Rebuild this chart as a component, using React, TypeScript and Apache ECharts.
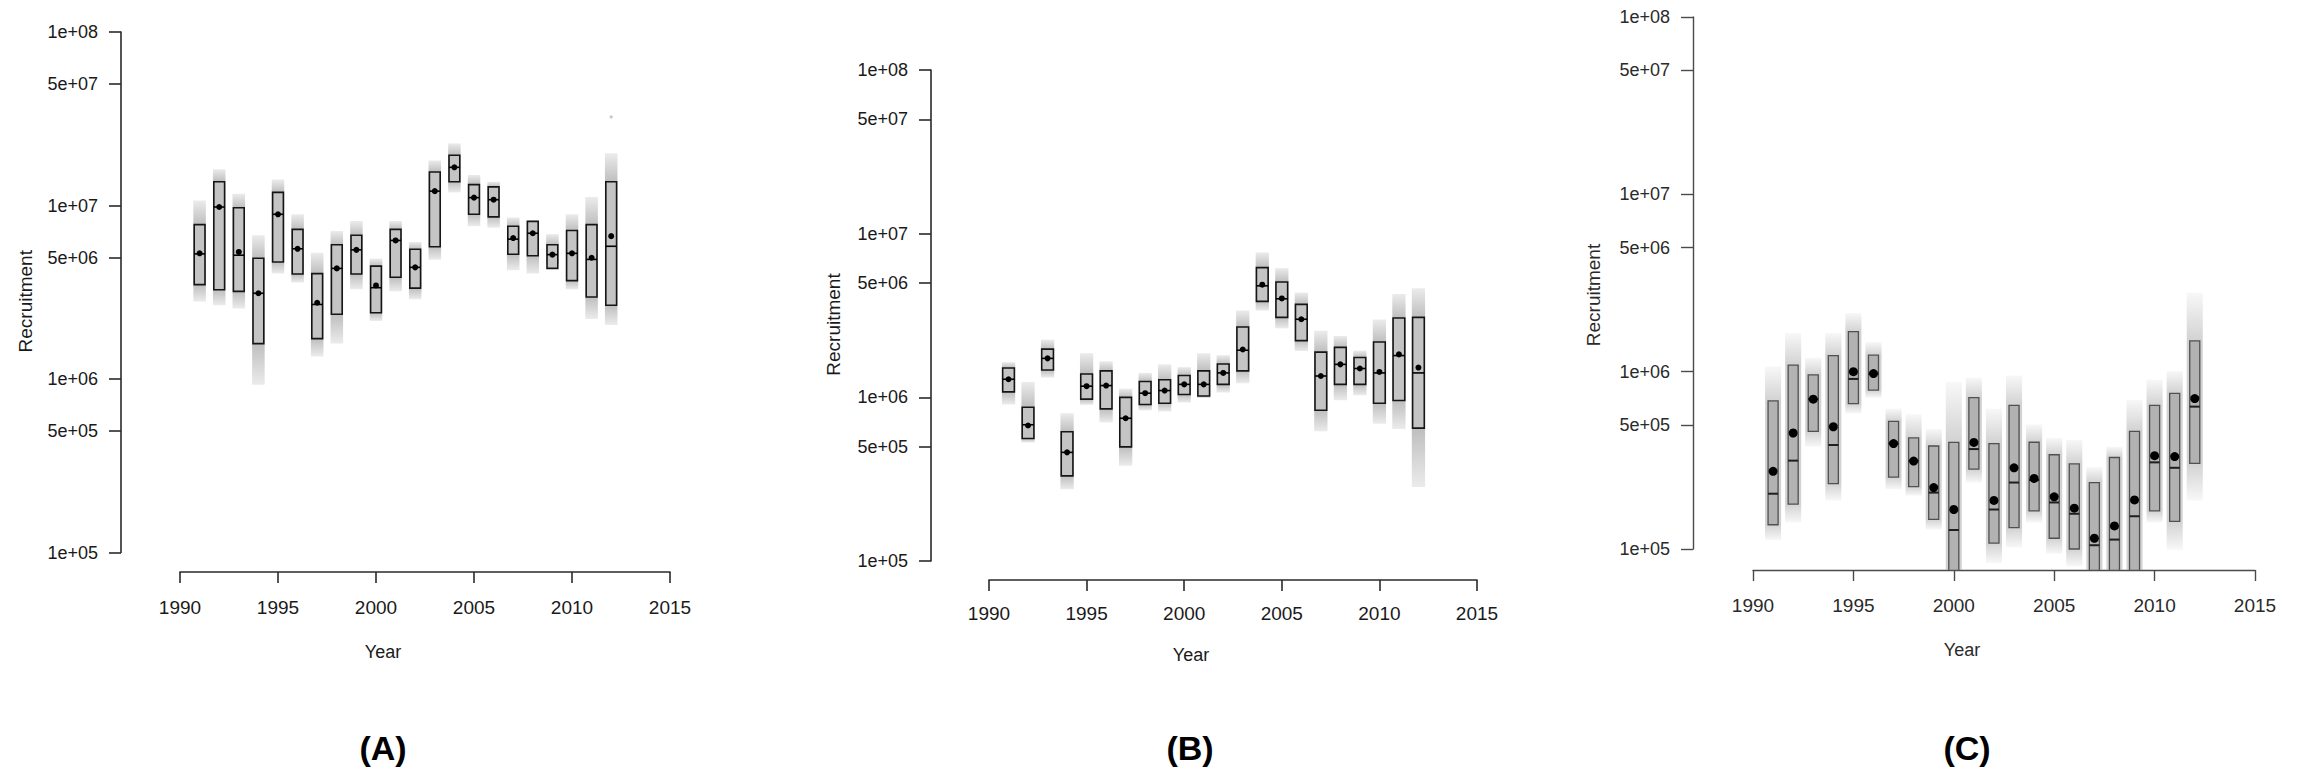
import { useEffect, useRef } from 'react';
import * as echarts from 'echarts';

// Recruitment estimates per year: interval box (low/high), median line, mean dot,
// and the spread of the posterior draws (cloud) drawn behind each box.
const years = [1991, 1992, 1993, 1994, 1995, 1996, 1997, 1998, 1999, 2000, 2001, 2002, 2003, 2004, 2005, 2006, 2007, 2008, 2009, 2010, 2011, 2012];

const yTickValues = [1e5, 5e5, 1e6, 5e6, 1e7, 5e7, 1e8];
const yTickLabels = ['1e+05', '5e+05', '1e+06', '5e+06', '1e+07', '5e+07', '1e+08'];
const panelLabels = ['(A)', '(B)', '(C)'];

// Panel A
const aLow = [3.5e6, 3.27e6, 3.2e6, 1.6e6, 4.72e6, 4.03e6, 1.71e6, 2.36e6, 4.03e6, 2.41e6, 3.86e6, 3.34e6, 5.78e6, 1.37e7, 8.9e6, 8.6e6, 5.24e6, 5.13e6, 4.34e6, 3.69e6, 2.97e6, 2.66e6];
const aHigh = [7.76e6, 1.37e7, 9.7e6, 4.97e6, 1.19e7, 7.28e6, 4.05e6, 5.94e6, 6.74e6, 4.47e6, 7.28e6, 5.6e6, 1.56e7, 1.95e7, 1.32e7, 1.28e7, 7.6e6, 8.1e6, 5.94e6, 7.17e6, 7.76e6, 1.37e7];
const aMedian = [5.26e6, 9.8e6, 5.17e6, 3.12e6, 8.9e6, 5.63e6, 2.69e6, 4.34e6, 5.55e6, 3.36e6, 6.29e6, 4.4e6, 1.21e7, 1.66e7, 1.11e7, 1.08e7, 6.4e6, 6.92e6, 5.21e6, 5.3e6, 4.89e6, 5.82e6];
const aMean = [5.3e6, 9.8e6, 5.4e6, 3.12e6, 8.9e6, 5.63e6, 2.75e6, 4.34e6, 5.55e6, 3.46e6, 6.29e6, 4.4e6, 1.21e7, 1.66e7, 1.11e7, 1.08e7, 6.49e6, 6.92e6, 5.21e6, 5.3e6, 5.0e6, 6.66e6];
const aCloudLo = [2.8e6, 2.66e6, 2.55e6, 9.25e5, 4.05e6, 3.6e6, 1.35e6, 1.6e6, 3.29e6, 2.16e6, 3.2e6, 2.88e6, 4.86e6, 1.19e7, 7.6e6, 7.45e6, 4.23e6, 4.05e6, 4.62e6, 3.29e6, 2.22e6, 2.05e6];
const aCloudHi = [1.07e7, 1.62e7, 1.17e7, 6.73e6, 1.41e7, 8.9e6, 5.35e6, 7.13e6, 8.13e6, 4.94e6, 8.13e6, 6.16e6, 1.82e7, 2.28e7, 1.5e7, 1.37e7, 8.53e6, 8.2e6, 6.84e6, 8.9e6, 1.12e7, 2.0e7];
const aOutliers = [[2012, 3.24e7]];

// Panel B
const bLow = [1.08e6, 5.6e5, 1.47e6, 3.31e5, 9.75e5, 8.5e5, 4.98e5, 9.04e5, 9.2e5, 1.04e6, 1.02e6, 1.2e6, 1.45e6, 3.86e6, 3.08e6, 2.22e6, 8.33e5, 1.2e6, 1.2e6, 9.2e5, 9.57e5, 6.48e5];
const bHigh = [1.51e6, 8.7e5, 1.97e6, 6.16e5, 1.39e6, 1.45e6, 1.0e6, 1.25e6, 1.28e6, 1.36e6, 1.45e6, 1.6e6, 2.69e6, 6.2e6, 5.07e6, 3.7e6, 1.89e6, 2.02e6, 1.75e6, 2.18e6, 3.05e6, 3.08e6];
const bMedian = [1.29e6, 6.8e5, 1.73e6, 4.61e5, 1.17e6, 1.18e6, 7.45e5, 1.06e6, 1.1e6, 1.2e6, 1.2e6, 1.41e6, 1.94e6, 4.8e6, 4.0e6, 3.0e6, 1.35e6, 1.59e6, 1.5e6, 1.41e6, 1.8e6, 1.41e6];
const bMean = [1.29e6, 6.73e5, 1.73e6, 4.61e5, 1.17e6, 1.18e6, 7.45e5, 1.06e6, 1.1e6, 1.2e6, 1.2e6, 1.41e6, 1.96e6, 4.88e6, 4.02e6, 3.0e6, 1.35e6, 1.59e6, 1.5e6, 1.43e6, 1.83e6, 1.52e6];
const bCloudLo = [9.04e5, 5.3e5, 1.32e6, 2.74e5, 9.0e5, 7.03e5, 3.82e5, 8.33e5, 8.2e5, 9.3e5, 9.9e5, 1.07e6, 1.22e6, 3.39e6, 2.64e6, 1.92e6, 6.2e5, 9.6e5, 1.03e6, 6.9e5, 6.4e5, 2.83e5];
const bCloudHi = [1.64e6, 1.24e6, 2.25e6, 7.98e5, 1.86e6, 1.66e6, 1.13e6, 1.41e6, 1.59e6, 1.53e6, 1.86e6, 1.81e6, 3.39e6, 7.68e6, 6.16e6, 4.37e6, 2.55e6, 2.37e6, 1.93e6, 2.99e6, 4.28e6, 4.64e6];
const bOutliers: number[][] = [];

// Panel C
const cLow = [1.37e5, 1.79e5, 4.61e5, 2.34e5, 6.61e5, 7.87e5, 2.54e5, 2.25e5, 1.47e5, 6.0e4, 2.82e5, 1.08e5, 1.32e5, 1.64e5, 1.15e5, 1.0e5, 6.0e4, 6.0e4, 6.0e4, 1.64e5, 1.43e5, 3.04e5];
const cHigh = [6.84e5, 1.09e6, 9.58e5, 1.23e6, 1.68e6, 1.24e6, 5.24e5, 4.23e5, 3.81e5, 3.99e5, 7.13e5, 3.93e5, 6.46e5, 4.0e5, 3.4e5, 3.02e5, 2.37e5, 3.28e5, 4.61e5, 6.46e5, 7.55e5, 1.49e6];
const cMedian = [2.05e5, 3.15e5, 7.0e5, 3.86e5, 9.1e5, 9.75e5, 3.93e5, 3.13e5, 2.08e5, 1.28e5, 3.66e5, 1.67e5, 2.37e5, 2.45e5, 1.83e5, 1.58e5, 1.05e5, 1.13e5, 1.53e5, 3.08e5, 2.87e5, 6.35e5];
const cMean = [2.74e5, 4.51e5, 7.0e5, 4.89e5, 1.0e6, 9.75e5, 3.93e5, 3.13e5, 2.22e5, 1.67e5, 3.99e5, 1.88e5, 2.87e5, 2.5e5, 1.97e5, 1.7e5, 1.15e5, 1.35e5, 1.89e5, 3.36e5, 3.32e5, 7.05e5];
const cCloudLo = [1.12e5, 1.41e5, 3.77e5, 1.88e5, 5.82e5, 7.13e5, 2.17e5, 2.0e5, 1.29e5, 5.0e4, 2.37e5, 8.35e4, 1.02e5, 1.41e5, 9.4e4, 8.0e4, 5.0e4, 5.0e4, 5.0e4, 1.41e5, 9.9e4, 1.88e5];
const cCloudHi = [1.07e6, 1.65e6, 1.2e6, 1.65e6, 2.14e6, 1.47e6, 6.17e5, 5.75e5, 4.75e5, 8.74e5, 9.25e5, 6.17e5, 9.5e5, 5.04e5, 4.23e5, 4.12e5, 2.9e5, 3.77e5, 6.92e5, 9.0e5, 1.01e6, 2.79e6];
const cOutliers: number[][] = [];

const panels = [
  { low: aLow, high: aHigh, median: aMedian, mean: aMean, cloudLo: aCloudLo, cloudHi: aCloudHi, outliers: aOutliers },
  { low: bLow, high: bHigh, median: bMedian, mean: bMean, cloudLo: bCloudLo, cloudHi: bCloudHi, outliers: bOutliers },
  { low: cLow, high: cHigh, median: cMedian, mean: cMean, cloudLo: cCloudLo, cloudHi: cCloudHi, outliers: cOutliers },
];

const FONT = '"Liberation Sans", Arial, Helvetica, sans-serif';

// Plot frames (pixels) and mark styling for each panel.
const frames = [
  {
    left: 180, top: 32, width: 490, height: 520.5, yOffset: 59, xOffset: 19.5,
    xLabelMargin: 26, xNameGap: 71, yNameGap: 86, yNameShift: 18, labelX: 383,
    axisColor: '#2a2a2a', axisWidth: 1.6, textColor: '#1a1a1a',
    boxW: 0.55, cloudW: 0.64, boxFill: '#c4c4c4', boxStroke: '#151515', boxLine: 1.6,
    cloudDense: 'rgba(190,190,190,1)', cloudFade: 'rgba(190,190,190,0.3)',
    dotR: 3, medianColor: '#000', medianW: 1.6,
  },
  {
    left: 989, top: 70, width: 488, height: 491, yOffset: 58, xOffset: 19,
    xLabelMargin: 23.5, xNameGap: 66, yNameGap: 88, yNameShift: 18, labelX: 1190,
    axisColor: '#2a2a2a', axisWidth: 1.6, textColor: '#1a1a1a',
    boxW: 0.6, cloudW: 0.68, boxFill: '#c4c4c4', boxStroke: '#151515', boxLine: 1.6,
    cloudDense: 'rgba(190,190,190,1)', cloudFade: 'rgba(190,190,190,0.3)',
    dotR: 3, medianColor: '#000', medianW: 1.6,
  },
  {
    left: 1753, top: 17, width: 502, height: 532, yOffset: 60, xOffset: 21,
    xLabelMargin: 25.5, xNameGap: 71, yNameGap: 90, yNameShift: 24, labelX: 1967,
    axisColor: '#4a4a4a', axisWidth: 1.4, textColor: '#2a2a2a',
    boxW: 0.5, cloudW: 0.8, boxFill: '#b2b2b2', boxStroke: '#505050', boxLine: 1.3,
    cloudDense: 'rgba(165,165,165,0.5)', cloudFade: 'rgba(165,165,165,0.08)',
    dotR: 4.5, medianColor: '#1e1e1e', medianW: 2,
  },
];

// Plot region floor: 4% below 1e+05 on the 3-decade log range.
const LOG_FLOOR = 5 - 0.12;
const L = (v: number) => Math.log10(v);
const yTickPos = yTickValues.map(L);

function renderFor(f: any) {
  return (params: any, api: any) => {
    const x = api.value(0);
    const clamp = (v: number) => Math.max(v, LOG_FLOOR);
    const lo = clamp(api.value(1));
    const hi = clamp(api.value(2));
    const med = api.value(3);
    const mean = api.value(4);
    const cLo = clamp(api.value(5));
    const cHi = clamp(api.value(6));

    const bw = api.size([f.boxW, 0])[0];
    const cw = api.size([f.cloudW, 0])[0];
    const pTop = api.coord([x, hi]);
    const pBot = api.coord([x, lo]);
    const cTop = api.coord([x, cHi]);
    const cBot = api.coord([x, cLo]);
    const pMed = api.coord([x, med]);
    const pMean = api.coord([x, mean]);

    const span = Math.max(1, cBot[1] - cTop[1]);
    const t1 = Math.min(1, Math.max(0, (pTop[1] - cTop[1]) / span));
    const t2 = Math.min(1, Math.max(t1, (pBot[1] - cTop[1]) / span));

    const children: any[] = [
      {
        type: 'rect',
        shape: { x: cTop[0] - cw / 2, y: cTop[1], width: cw, height: span },
        style: {
          fill: new echarts.graphic.LinearGradient(0, 0, 0, 1, [
            { offset: 0, color: f.cloudFade },
            { offset: t1, color: f.cloudDense },
            { offset: t2, color: f.cloudDense },
            { offset: 1, color: f.cloudFade },
          ]),
        },
      },
      {
        type: 'rect',
        shape: { x: pTop[0] - bw / 2, y: pTop[1], width: bw, height: pBot[1] - pTop[1] },
        style: { fill: f.boxFill, stroke: f.boxStroke, lineWidth: f.boxLine },
      },
    ];
    if (med >= LOG_FLOOR) {
      children.push({
        type: 'line',
        shape: { x1: pMed[0] - bw / 2, y1: pMed[1], x2: pMed[0] + bw / 2, y2: pMed[1] },
        style: { stroke: f.medianColor, lineWidth: f.medianW },
      });
    }
    children.push({
      type: 'circle',
      shape: { cx: pMean[0], cy: pMean[1], r: f.dotR },
      style: { fill: '#000' },
    });
    return { type: 'group', children };
  };
}

export default function App() {
  const ref = useRef<HTMLDivElement>(null);

  useEffect(() => {
    if (!ref.current) return;
    const chart = echarts.init(ref.current, null, { renderer: 'svg' });

    const labelFor = (v: number) => {
      const i = yTickPos.findIndex((p) => Math.abs(p - v) < 1e-6);
      return i >= 0 ? yTickLabels[i] : '';
    };

    const series: any[] = [];
    panels.forEach((p, i) => {
      const f = frames[i];
      series.push({
        type: 'custom',
        xAxisIndex: i,
        yAxisIndex: i,
        clip: false,
        renderItem: renderFor(f),
        encode: { x: 0, y: [1, 2, 3, 4, 5, 6] },
        data: years.map((yr, k) => [
          yr,
          L(p.low[k]),
          L(p.high[k]),
          L(p.median[k]),
          L(p.mean[k]),
          L(p.cloudLo[k]),
          L(p.cloudHi[k]),
        ]),
      });
      if (p.outliers.length) {
        series.push({
          type: 'scatter',
          xAxisIndex: i,
          yAxisIndex: i,
          symbol: 'circle',
          symbolSize: 3,
          itemStyle: { color: '#b5b5b5' },
          data: p.outliers.map((o) => [o[0], L(o[1])]),
        });
      }
    });

    const option: any = {
      animation: false,
      backgroundColor: '#ffffff',
      grid: frames.map((f) => ({
        left: f.left,
        top: f.top,
        width: f.width,
        height: f.height,
        containLabel: false,
        outerBoundsMode: 'none',
      })),
      xAxis: frames.map((f, i) => ({
        type: 'value',
        gridIndex: i,
        min: 1990,
        max: 2015,
        interval: 5,
        offset: f.xOffset,
        axisLine: { show: true, onZero: false, lineStyle: { color: f.axisColor, width: f.axisWidth } },
        axisTick: { show: true, length: 11, lineStyle: { color: f.axisColor, width: f.axisWidth } },
        axisLabel: {
          margin: f.xLabelMargin,
          fontSize: 19,
          fontFamily: FONT,
          color: f.textColor,
          formatter: (v: number) => String(v),
        },
        splitLine: { show: false },
        name: 'Year',
        nameLocation: 'middle',
        nameGap: f.xNameGap,
        nameTextStyle: { fontSize: 18, fontFamily: FONT, color: f.textColor, padding: [0, 84, 0, 0] },
      })),
      yAxis: frames.map((f, i) => ({
        type: 'value',
        gridIndex: i,
        min: 5,
        max: 8,
        offset: f.yOffset,
        axisLine: { show: true, onZero: false, lineStyle: { color: f.axisColor, width: f.axisWidth } },
        axisTick: { show: true, length: 12, customValues: yTickPos, lineStyle: { color: f.axisColor, width: f.axisWidth } },
        axisLabel: {
          customValues: yTickPos,
          formatter: labelFor,
          margin: 23,
          fontSize: 18,
          fontFamily: FONT,
          color: f.textColor,
        },
        splitLine: { show: false },
        name: 'Recruitment',
        nameLocation: 'middle',
        nameGap: f.yNameGap,
        nameTextStyle: {
          fontSize: 19,
          fontFamily: FONT,
          color: f.textColor,
          padding: [0, f.yNameShift, 0, 0],
        },
      })),
      series,
      graphic: frames.map((f, i) => ({
        type: 'text',
        x: f.labelX,
        y: 748,
        style: {
          text: panelLabels[i],
          font: `bold 34px ${FONT}`,
          fill: '#000',
          align: 'center',
          verticalAlign: 'middle',
        },
      })),
    };

    chart.setOption(option);
    return () => chart.dispose();
  }, []);

  return (
    <div
      ref={ref}
      style={{ position: 'fixed', left: 0, top: 0, width: 2306, height: 770, background: '#fff' }}
    />
  );
}
